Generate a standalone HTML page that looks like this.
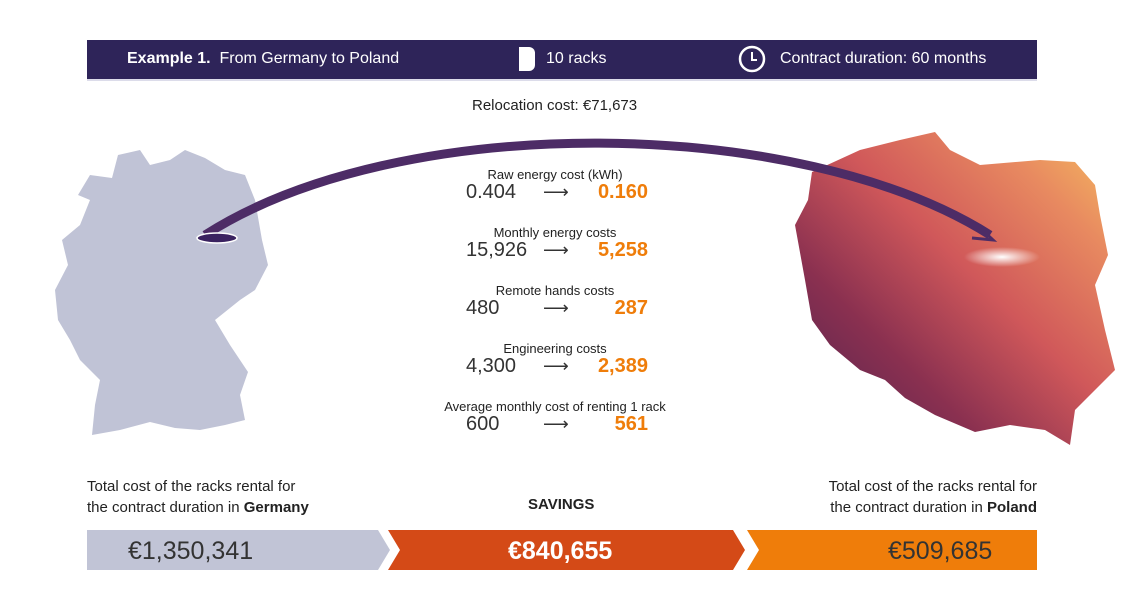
<!DOCTYPE html>
<html><head><meta charset="utf-8">
<style>
body{margin:0;width:1141px;height:611px;background:#fff;position:relative;overflow:hidden;font-family:"Liberation Sans Narrow","Liberation Sans",sans-serif;color:#222}
.a{position:absolute;white-space:nowrap}
</style></head><body>
<div class="a" style="left:87px;top:40px;width:950px;height:39px;background:#2e2459;border-bottom:2px solid #dcdcea"></div>
<div class="a" style="left:127px;top:50px;color:#fff;font-size:16px"><b>Example 1.</b>&nbsp; From Germany to Poland</div>
<div class="a" style="left:519px;top:47px;width:16px;height:24px;background:#fff;border-radius:0 6px 6px 0"></div>
<div class="a" style="left:546px;top:50px;color:#fff;font-size:16px">10 racks</div>
<svg class="a" style="left:738px;top:45px" width="28" height="28"><circle cx="14" cy="14" r="12" fill="none" stroke="#fff" stroke-width="2.5"/><path d="M14 7V15H19" fill="none" stroke="#fff" stroke-width="2"/></svg>
<div class="a" style="left:780px;top:50px;color:#fff;font-size:16px">Contract duration: 60 months</div>
<div class="a" style="left:472px;top:97px;font-size:15px">Relocation cost: €71,673</div>

<svg class="a" style="left:0;top:0" width="1141" height="611">
<defs><linearGradient id="pl" x1="0" y1="1" x2="1" y2="0"><stop offset="0" stop-color="#4a2250"/><stop offset="0.3" stop-color="#8a3050"/><stop offset="0.55" stop-color="#d0585a"/><stop offset="0.8" stop-color="#e88a60"/><stop offset="1" stop-color="#f6c060"/></linearGradient>
<radialGradient id="gl"><stop offset="0" stop-color="#fff"/><stop offset="1" stop-color="#fff" stop-opacity="0"/></radialGradient></defs>
<path d="M118,155 L140,150 L150,165 L170,160 L185,150 L205,158 L225,170 L245,175 L255,200 L262,240 L268,265 L255,290 L240,300 L215,320 L230,345 L248,372 L240,395 L245,420 L225,425 L200,430 L175,428 L150,422 L120,430 L92,435 L95,405 L100,380 L80,360 L70,340 L58,320 L55,290 L68,265 L62,240 L80,225 L90,200 L78,195 L90,175 L112,178 Z" fill="#c0c3d6"/>
<path d="M812,172 L860,150 L900,140 L935,132 L950,150 L980,165 L1040,160 L1075,162 L1095,185 L1100,215 L1108,255 L1095,285 L1105,330 L1115,370 L1095,390 L1075,410 L1070,445 L1045,430 L1010,425 L975,432 L935,415 L905,398 L885,380 L860,370 L830,345 L812,320 L805,280 L795,225 L808,200 Z" fill="url(#pl)"/>
<path d="M205,235 C400,110 800,115 990,235" fill="none" stroke="#4d2c66" stroke-width="9"/>
<path d="M978,226 L993,240 L972,238" fill="none" stroke="#4d2c66" stroke-width="3"/>
<ellipse cx="217" cy="238" rx="20" ry="5" fill="#3a2260" stroke="#fff" stroke-width="1.5"/>
<ellipse cx="1002" cy="257" rx="38" ry="10" fill="url(#gl)"/>
</svg>

<div id="rows"></div>

<div class="a" style="left:87px;top:476px;font-size:15px;line-height:21px">Total cost of the racks rental for<br>the contract duration in <b>Germany</b></div>
<div class="a" style="left:528px;top:496px;font-size:15px;font-weight:bold">SAVINGS</div>
<div class="a" style="right:104px;top:476px;font-size:15px;line-height:21px;text-align:right">Total cost of the racks rental for<br>the contract duration in <b>Poland</b></div>
<svg class="a" style="left:0;top:0" width="1141" height="611">
<polygon points="87,530 378,530 390,550 378,570 87,570" fill="#c1c4d6"/>
<polygon points="388,530 733,530 745,550 733,570 388,570 400,550" fill="#d44a17"/>
<polygon points="747,530 1037,530 1037,570 747,570 759,550" fill="#ef7d0a"/>
</svg>
<div class="a" style="left:128px;top:537px;font-size:25px;color:#333">€1,350,341</div>
<div class="a" style="left:508px;top:537px;font-size:25px;color:#fff;font-weight:bold">€840,655</div>
<div class="a" style="left:888px;top:537px;font-size:25px;color:#333">€509,685</div>

<script>
const labels=["Raw energy cost (kWh)","Monthly energy costs","Remote hands costs","Engineering costs","Average monthly cost of renting 1 rack"];
const germanyVals=["0.404","15,926","480","4,300","600"];
const polandVals=["0.160","5,258","287","2,389","561"];
const root=document.getElementById('rows');
labels.forEach((l,i)=>{
  const y=167+i*58;
  const a=document.createElement('div');a.className='a';
  
  
  a.style.cssText=`left:430px;width:250px;text-align:center;top:${y}px;font-size:13px`;a.textContent=l;root.appendChild(a);
  const g=document.createElement('div');g.className='a';
  
  
  g.style.cssText=`left:466px;top:${y+14}px;font-size:20px;color:#333`;g.textContent=germanyVals[i];root.appendChild(g);
  const ar=document.createElement('div');ar.className='a';
  
  
  ar.style.cssText=`left:543px;top:${y+15}px;font-size:18px;color:#333`;ar.textContent='⟶';root.appendChild(ar);
  const p=document.createElement('div');p.className='a';
  
  
  p.style.cssText=`right:${1141-648}px;top:${y+14}px;font-size:20px;color:#ef7d0a;font-weight:bold`;p.textContent=polandVals[i];root.appendChild(p);
});
</script>
</body></html>
